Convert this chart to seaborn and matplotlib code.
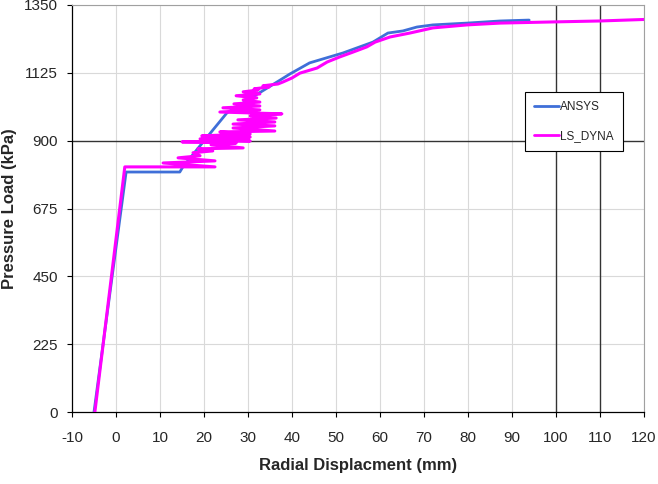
import matplotlib
matplotlib.use("Agg")
import matplotlib.pyplot as plt
import seaborn as sns
import pandas as pd
from matplotlib.lines import Line2D

sns.set_style("white")
plt.rcParams['font.family'] = ['Liberation Sans', 'DejaVu Sans']
plt.rcParams['axes.unicode_minus'] = False

# ANSYS curve (radial displacement mm, pressure kPa)
ansys_x = [-5.0, 2.3, 14.5, 15.2, 22.0, 25.2, 37.3, 39.5, 44.0, 51.6, 58.4,
           61.8, 65.2, 68.4, 72.0, 79.8, 87.3, 93.9]
ansys_y = [0, 796, 796, 813, 935, 992, 1101, 1121, 1158, 1191, 1227,
           1257, 1264, 1277, 1284, 1290, 1297, 1300]

# LS_DYNA curve
dyna_x = [-4.8, 2.0, 22.5, 10.7, 22.5, 14.1, 19.1, 17.5, 22.0, 18.6, 28.9,
          21.6, 27.3, 15.0, 30.5, 19.1, 30.5, 19.5, 30.5, 23.6, 36.1, 26.6,
          36.1, 26.6, 36.1, 27.7, 36.4, 30.5, 37.7, 23.6, 32.7, 24.3, 32.7,
          26.8, 32.7, 28.9, 32.0, 27.3, 32.7, 28.9, 32.3, 31.4, 34.8, 33.4,
          36.8, 38.0, 40.0, 41.8, 45.7, 48.0, 50.9, 53.9, 57.0, 58.9, 62.3,
          66.8, 72.0, 79.8, 87.3, 99.8, 110.0, 120.0]
dyna_y = [0, 813, 813, 826, 833, 843, 850, 860, 866, 873, 876,
          886, 892, 896, 899, 906, 912, 916, 922, 929, 932, 942,
          949, 955, 962, 969, 975, 982, 989, 995, 1002, 1009, 1015,
          1022, 1028, 1035, 1042, 1049, 1055, 1062, 1068, 1072, 1078, 1082,
          1088, 1095, 1108, 1124, 1141, 1161, 1178, 1194, 1211, 1227, 1244,
          1257, 1274, 1284, 1290, 1294, 1297, 1302]

x_ticks = list(range(-10, 121, 10))
y_ticks = [0, 225, 450, 675, 900, 1125, 1350]
series_names = ["ANSYS", "LS_DYNA"]
colors = ["#3f6fd8", "#ff00ff"]

df_a = pd.DataFrame({"x": ansys_x, "y": ansys_y})
df_d = pd.DataFrame({"x": dyna_x, "y": dyna_y})

fig = plt.figure(figsize=(6.58, 4.84), dpi=100)
ax = fig.add_axes([72/658, 1-412/484, (644-72)/658, (412-5)/484])

ax.set_xlim(-10, 120)
ax.set_ylim(0, 1350)
ax.set_xticks(x_ticks)
ax.set_yticks(y_ticks)

# grid
for xv in x_ticks:
    if xv in (100, 110):
        ax.axvline(xv, color="#333333", lw=1.0, zorder=1)
    elif xv != -10:
        ax.axvline(xv, color="#d9d9d9", lw=0.8, zorder=0)
for yv in y_ticks:
    if yv == 900:
        ax.axhline(yv, color="#333333", lw=1.0, zorder=1)
    elif yv != 0:
        ax.axhline(yv, color="#d9d9d9", lw=0.8, zorder=0)

sns.lineplot(data=df_a, x="x", y="y", sort=False, estimator=None, ax=ax,
             color=colors[0], lw=2.0, zorder=3)
sns.lineplot(data=df_d, x="x", y="y", sort=False, estimator=None, ax=ax,
             color=colors[1], lw=2.2, zorder=4)

for s in ("top", "right"):
    ax.spines[s].set_color("#a0a0a0")
    ax.spines[s].set_linewidth(0.8)
for s in ("left", "bottom"):
    ax.spines[s].set_color("black")
    ax.spines[s].set_linewidth(0.9)

ax.tick_params(axis="both", direction="out", length=3.6, width=0.8,
               labelsize=11, color="black", left=True, bottom=True)
ax.tick_params(axis="x", pad=10)
ax.tick_params(axis="y", pad=6.5)
ax.set_xlabel("Radial Displacment (mm)", fontsize=12, fontweight="bold")
ax.set_ylabel("Pressure Load (kPa)", fontsize=12, fontweight="bold")
ax.xaxis.set_label_coords(0.5, (412-458)/407)
ax.yaxis.set_label_coords((17-72)/572, 0.5)

handles = [Line2D([0], [0], color=c, lw=2.0) for c in colors]
leg = ax.legend(handles, series_names, loc="upper left",
                bbox_to_anchor=(525/658, 1-92/484), bbox_transform=fig.transFigure,
                borderaxespad=0,
                fontsize=8.5, frameon=True, fancybox=False, edgecolor="black",
                framealpha=1, handlelength=2.1, labelspacing=1.45,
                handletextpad=0.15, borderpad=0.75)
leg.get_frame().set_linewidth(0.8)
leg.set_zorder(10)

fig.savefig("out.png", dpi=100)
